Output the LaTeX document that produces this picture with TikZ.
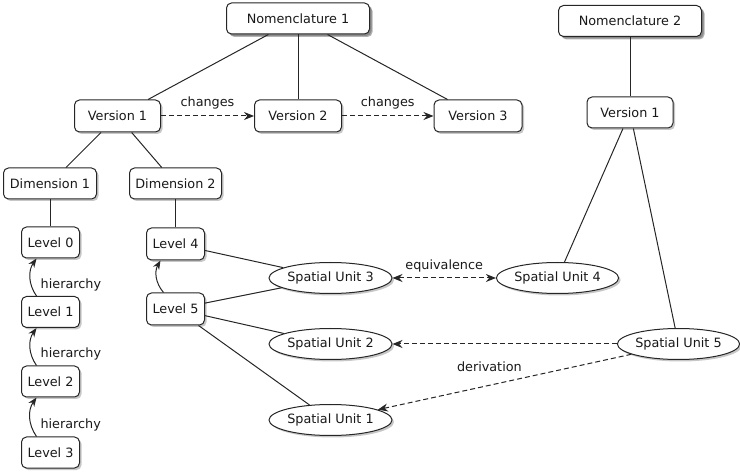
\documentclass[tikz,border=0pt]{standalone}
\usepackage{fontspec}
\setmainfont{DejaVu Sans}
\usetikzlibrary{shapes.geometric,arrows.meta,shadows}
\begin{document}
\begin{tikzpicture}[x=1pt,y=-1pt,
  font=\fontsize{12.8}{15}\selectfont,
  sh/.style={drop shadow={shadow xshift=2pt,shadow yshift=-2pt,opacity=0.22,fill=black}},
  box/.style={draw=black!85,line width=1pt,rounded corners=5pt,fill=white,sh,inner sep=0pt,minimum height=31pt,text=black!90},
  nomen/.style={box,drop shadow={shadow xshift=3pt,shadow yshift=-3pt,opacity=0.3,fill=black}},
  ellip/.style={ellipse,draw=black!85,line width=1pt,fill=white,sh,inner sep=0pt,minimum height=31pt,text=black!90},
  conn/.style={draw=black!85,line width=1pt},
  darrow/.style={conn,dash pattern=on 5pt off 3pt,-{Stealth[length=10pt,width=8pt]}},
  harrow/.style={conn,-{Stealth[length=9pt,width=7pt]}},
  lbl/.style={inner sep=0pt,text=black!90}]
\useasboundingbox (0,0) rectangle (740,473);
% nodes
\node[nomen,minimum width=143pt] (N1) at (298,18.5) {Nomenclature 1};
\node[nomen,minimum width=143pt] (N2) at (630,21) {Nomenclature 2};
\node[box,minimum width=86pt,minimum height=32pt] (V1) at (117.5,116) {Version 1};
\node[box,minimum width=87pt,minimum height=32pt] (V2) at (298,116) {Version 2};
\node[box,minimum width=88pt,minimum height=32pt] (V3) at (478,116) {Version 3};
\node[box,minimum width=86pt] (V1R) at (630,112.5) {Version 1};
\node[box,minimum width=93pt] (D1) at (50,183.5) {Dimension 1};
\node[box,minimum width=92pt] (D2) at (175.5,183.5) {Dimension 2};
\node[box,minimum width=58pt] (L0) at (50.5,242.5) {Level 0};
\node[box,minimum width=58pt] (L1) at (50.5,312) {Level 1};
\node[box,minimum width=58pt] (L2) at (50.5,381.5) {Level 2};
\node[box,minimum width=58pt] (L3) at (50.5,452.5) {Level 3};
\node[box,minimum width=58pt,minimum height=32pt] (L4) at (175.5,244) {Level 4};
\node[box,minimum width=58pt,minimum height=32pt] (L5) at (175.5,309) {Level 5};
\node[ellip,minimum width=123pt] (SU3) at (330.5,278) {Spatial Unit 3};
\node[ellip,minimum width=121pt] (SU4) at (557.5,278) {Spatial Unit 4};
\node[ellip,minimum width=123pt] (SU2) at (330.5,344) {Spatial Unit 2};
\node[ellip,minimum width=121pt] (SU5) at (678.5,344) {Spatial Unit 5};
\node[ellip,minimum width=123pt] (SU1) at (330.5,420) {Spatial Unit 1};
% plain connectors
\draw[conn] (N1) -- (V1);
\draw[conn] (N1) -- (V2);
\draw[conn] (N1) -- (V3);
\draw[conn] (N2) -- (V1R);
\draw[conn] (V1) -- (D1);
\draw[conn] (V1) -- (D2);
\draw[conn] (D1.south) -- (D1.south |- L0.north);
\draw[conn] (D2) -- (L4);
\draw[conn] (L4) -- (SU3);
\draw[conn] (L5) -- (SU3);
\draw[conn] (L5) -- (SU2);
\draw[conn] (L5) -- (SU1);
\draw[conn] (V1R) -- (SU4);
\draw[conn] (V1R) -- (SU5);
% dashed arrows
\draw[darrow] (V1) -- node[lbl,above=6pt] {changes} (V2);
\draw[darrow] (V2) -- node[lbl,above=6pt] {changes} (V3);
\draw[darrow,{Stealth[length=10pt,width=8pt]}-{Stealth[length=10pt,width=8pt]}] (SU3) -- node[lbl,above=5pt] {equivalence} (SU4);
\draw[darrow] (SU5) -- (SU2);
\draw[darrow] (SU5) -- node[lbl,pos=0.56,above=13pt] {derivation} (SU1);
% hierarchy arrows
\draw[harrow] ([xshift=-14pt]L1.north) to[bend left=35] node[lbl,pos=0.3,right=9pt] {hierarchy} ([xshift=-14pt]L0.south);
\draw[harrow] ([xshift=-14pt]L2.north) to[bend left=35] node[lbl,pos=0.3,right=9pt] {hierarchy} ([xshift=-14pt]L1.south);
\draw[harrow] ([xshift=-14pt]L3.north) to[bend left=35] node[lbl,pos=0.3,right=9pt] {hierarchy} ([xshift=-14pt]L2.south);
\draw[harrow] ([xshift=-12pt]L5.north) to[bend left=35] ([xshift=-15pt]L4.south);
\end{tikzpicture}
\end{document}
